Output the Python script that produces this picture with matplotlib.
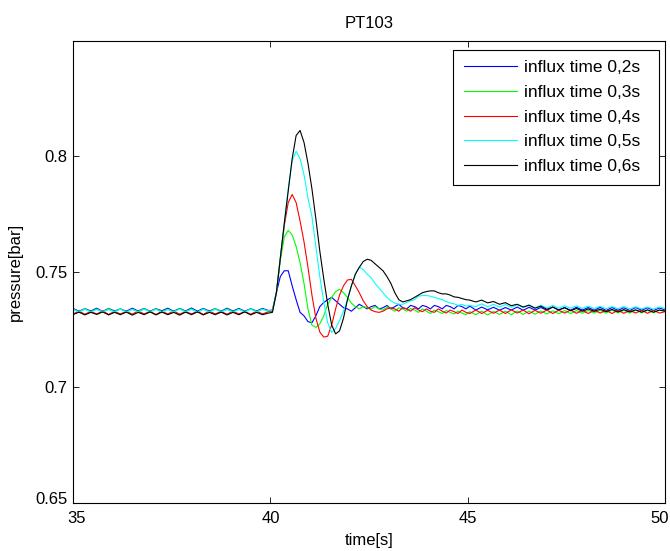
# PT103 pressure response for different influx times

import numpy as np
import matplotlib
matplotlib.use('Agg')
import matplotlib.pyplot as plt
import matplotlib.transforms as mtrans

plt.rcParams['font.family'] = ['Liberation Sans', 'DejaVu Sans']

# time grids: baseline 35.00-39.95 (0.15 s), event 40.05-45.05 (0.1 s), tail 45.20-50.00 (0.15 s)
t_base = np.round(35 + 0.15 * np.arange(34), 2)
t_event = np.round(40.05 + 0.1 * np.arange(51), 2)
t_tail = np.round(45.2 + 0.15 * np.arange(33), 2)
t = np.concatenate([t_base, t_event, t_tail])

labels = ['influx time 0,2s', 'influx time 0,3s', 'influx time 0,4s',
          'influx time 0,5s', 'influx time 0,6s']
colors = ['#0000ff', '#00ff00', '#ff0000', '#00ffff', '#000000']

# values
blue_base = [0.7342, 0.7330, 0.7341, 0.7331, 0.7343, 0.7329, 0.7342, 0.7331, 0.7340, 0.7330,
             0.7343, 0.7331, 0.7342, 0.7330, 0.7341, 0.7332, 0.7343, 0.7330, 0.7342, 0.7331,
             0.7344, 0.7330, 0.7342, 0.7331, 0.7341, 0.7330, 0.7343, 0.7331, 0.7342, 0.7330,
             0.7341, 0.7331, 0.7342, 0.7333]
blue_event = [0.7335, 0.741, 0.748, 0.7505, 0.7505, 0.744, 0.738, 0.7325, 0.731, 0.7285,
              0.728, 0.731, 0.735, 0.7368, 0.738, 0.739, 0.7375, 0.736, 0.7345, 0.734,
              0.733, 0.7345, 0.736, 0.735, 0.734, 0.735, 0.7355, 0.734, 0.7345, 0.7355,
              0.734, 0.735, 0.736, 0.7345, 0.734, 0.7355, 0.735, 0.734, 0.7355, 0.735,
              0.734, 0.7355, 0.735, 0.734, 0.7355, 0.735, 0.734, 0.7355, 0.735, 0.734,
              0.7352]
blue_tail = [0.7335, 0.7348, 0.7336, 0.7347, 0.7334, 0.7346, 0.7335, 0.7348, 0.7334, 0.7347,
             0.7335, 0.7346, 0.7334, 0.7348, 0.7335, 0.7346, 0.7334, 0.7347, 0.7335, 0.7346,
             0.7334, 0.7347, 0.7333, 0.7346, 0.7334, 0.7345, 0.7333, 0.7346, 0.7334, 0.7345,
             0.7333, 0.7344, 0.7335]

green_base = [0.7339, 0.7327, 0.7340, 0.7328, 0.7339, 0.7326, 0.7341, 0.7328, 0.7340, 0.7327,
              0.7339, 0.7328, 0.7341, 0.7327, 0.7340, 0.7328, 0.7339, 0.7327, 0.7341, 0.7328,
              0.7340, 0.7326, 0.7339, 0.7328, 0.7341, 0.7327, 0.7340, 0.7328, 0.7339, 0.7327,
              0.7340, 0.7328, 0.7339, 0.7330]
green_event = [0.7335, 0.741, 0.755, 0.765, 0.768, 0.766, 0.761, 0.754, 0.745, 0.734,
               0.727, 0.726, 0.7275, 0.731, 0.736, 0.739, 0.7415, 0.7425, 0.741, 0.739,
               0.7365, 0.735, 0.734, 0.735, 0.7345, 0.734, 0.735, 0.734, 0.7335, 0.7348,
               0.734, 0.733, 0.7345, 0.734, 0.733, 0.7342, 0.7335, 0.7325, 0.734, 0.733,
               0.732, 0.7335, 0.7328, 0.732, 0.7333, 0.7325, 0.7318, 0.733, 0.7322, 0.7315,
               0.7328]
green_tail = [0.7315, 0.7330, 0.7314, 0.7329, 0.7316, 0.7330, 0.7315, 0.7331, 0.7316, 0.7330,
              0.7317, 0.7331, 0.7318, 0.7332, 0.7319, 0.7333, 0.7320, 0.7333, 0.7321, 0.7334,
              0.7322, 0.7334, 0.7322, 0.7335, 0.7323, 0.7334, 0.7322, 0.7335, 0.7323, 0.7334,
              0.7323, 0.7335, 0.7330]

red_base = [0.7318, 0.7330, 0.7317, 0.7329, 0.7318, 0.7331, 0.7316, 0.7329, 0.7318, 0.7330,
            0.7317, 0.7331, 0.7318, 0.7329, 0.7316, 0.7330, 0.7318, 0.7331, 0.7317, 0.7329,
            0.7318, 0.7330, 0.7316, 0.7331, 0.7318, 0.7329, 0.7317, 0.7330, 0.7318, 0.7329,
            0.7317, 0.7330, 0.7318, 0.7328]
red_event = [0.733, 0.741, 0.756, 0.770, 0.780, 0.7835, 0.780, 0.772, 0.763, 0.752,
             0.740, 0.730, 0.724, 0.7218, 0.7222, 0.727, 0.734, 0.740, 0.744, 0.7465,
             0.7468, 0.744, 0.741, 0.7375, 0.735, 0.7335, 0.7328, 0.7325, 0.733, 0.734,
             0.7345, 0.734, 0.733, 0.7345, 0.734, 0.733, 0.7345, 0.7335, 0.7328, 0.734,
             0.733, 0.7325, 0.734, 0.733, 0.7322, 0.7335, 0.7328, 0.732, 0.7335, 0.7325,
             0.732]
red_tail = [0.7335, 0.7320, 0.7334, 0.7321, 0.7335, 0.7320, 0.7336, 0.7322, 0.7335, 0.7319,
            0.7334, 0.7321, 0.7335, 0.7320, 0.7334, 0.7322, 0.7335, 0.7321, 0.7334, 0.7320,
            0.7335, 0.7322, 0.7334, 0.7320, 0.7335, 0.7321, 0.7334, 0.7322, 0.7335, 0.7321,
            0.7334, 0.7322, 0.7328]

cyan_base = [0.7338, 0.7327, 0.7339, 0.7326, 0.7338, 0.7328, 0.7337, 0.7327, 0.7339, 0.7326,
             0.7338, 0.7327, 0.7339, 0.7328, 0.7338, 0.7326, 0.7337, 0.7327, 0.7339, 0.7328,
             0.7338, 0.7326, 0.7339, 0.7327, 0.7338, 0.7328, 0.7337, 0.7326, 0.7338, 0.7327,
             0.7339, 0.7328, 0.7338, 0.7331]
cyan_event = [0.7335, 0.741, 0.756, 0.771, 0.786, 0.798, 0.8022, 0.799, 0.792, 0.782,
              0.774, 0.761, 0.748, 0.737, 0.728, 0.7238, 0.7255, 0.729, 0.733, 0.738,
              0.744, 0.749, 0.7522, 0.751, 0.749, 0.7475, 0.745, 0.743, 0.741, 0.739,
              0.7375, 0.7365, 0.736, 0.736, 0.7368, 0.7375, 0.738, 0.7395, 0.7398, 0.7398,
              0.7395, 0.739, 0.7385, 0.738, 0.7372, 0.7365, 0.7362, 0.7355, 0.736, 0.7352,
              0.7355]
cyan_tail = [0.7350, 0.7362, 0.7349, 0.7360, 0.7348, 0.7359, 0.7347, 0.7358, 0.7346, 0.7357,
             0.7345, 0.7356, 0.7344, 0.7355, 0.7343, 0.7354, 0.7343, 0.7353, 0.7342, 0.7352,
             0.7342, 0.7351, 0.7341, 0.7350, 0.7341, 0.7350, 0.7340, 0.7349, 0.7340, 0.7348,
             0.7339, 0.7348, 0.7342]

black_base = [0.7315, 0.7326, 0.7314, 0.7325, 0.7316, 0.7327, 0.7314, 0.7325, 0.7315, 0.7326,
              0.7313, 0.7325, 0.7315, 0.7327, 0.7314, 0.7326, 0.7315, 0.7325, 0.7313, 0.7326,
              0.7315, 0.7327, 0.7314, 0.7325, 0.7315, 0.7326, 0.7314, 0.7325, 0.7315, 0.7327,
              0.7314, 0.7325, 0.7315, 0.7322]
black_event = [0.7325, 0.741, 0.756, 0.771, 0.785, 0.799, 0.809, 0.8112, 0.806, 0.797,
               0.786, 0.773, 0.759, 0.747, 0.736, 0.727, 0.7232, 0.7245, 0.730, 0.738,
               0.744, 0.749, 0.752, 0.7545, 0.7555, 0.755, 0.7535, 0.752, 0.7505, 0.748,
               0.745, 0.741, 0.738, 0.737, 0.7375, 0.738, 0.739, 0.740, 0.741, 0.7415,
               0.7418, 0.7418, 0.741, 0.7405, 0.7405, 0.740, 0.7392, 0.739, 0.7385, 0.738,
               0.7378]
black_tail = [0.7370, 0.7378, 0.7366, 0.7372, 0.7360, 0.7367, 0.7354, 0.7360, 0.7348, 0.7356,
              0.7343, 0.7352, 0.7338, 0.7348, 0.7335, 0.7345, 0.7332, 0.7342, 0.7330, 0.7340,
              0.7329, 0.7339, 0.7328, 0.7338, 0.7327, 0.7337, 0.7327, 0.7336, 0.7326, 0.7336,
              0.7326, 0.7335, 0.7330]

series = [blue_base + blue_event + blue_tail,
          green_base + green_event + green_tail,
          red_base + red_event + red_tail,
          cyan_base + cyan_event + cyan_tail,
          black_base + black_event + black_tail]

fig = plt.figure(figsize=(6.7, 5.51), dpi=100)
ax = fig.add_axes([0.109, 0.087, 0.884, 0.839])

for vals, lab, col in zip(series, labels, colors):
    ax.plot(t, vals, color=col, linewidth=0.8, label=lab)

ax.set_xlim(35, 50)
ax.set_ylim(0.65, 0.85)
ax.set_xticks([35, 40, 45, 50])
ax.set_yticks([0.65, 0.7, 0.75, 0.8, 0.85])
ax.set_yticklabels(['0.65', '0.7', '0.75', '0.8', ''])
ax.tick_params(direction='in', top=True, right=True, length=4.5, width=0.6,
               labelsize=12)
ax.tick_params(axis='x', pad=6)
ax.tick_params(axis='y', pad=4)
for sp in ax.spines.values():
    sp.set_linewidth(0.8)

# nudge the corner labels apart like the original
xl = ax.get_xticklabels()
xl[0].set_transform(xl[0].get_transform() + mtrans.ScaledTranslation(4 / 100, 0, fig.dpi_scale_trans))
xl[-1].set_transform(xl[-1].get_transform() + mtrans.ScaledTranslation(-6 / 100, 0, fig.dpi_scale_trans))
yl = ax.get_yticklabels()
yl[0].set_transform(yl[0].get_transform() + mtrans.ScaledTranslation(0, 5 / 100, fig.dpi_scale_trans))

ax.set_title('PT103', fontsize=12, pad=9)
ax.set_xlabel('time[s]', fontsize=12, labelpad=5)
ax.set_ylabel('pressure[bar]', fontsize=12, labelpad=9)

lgd = ax.legend(loc='upper right', bbox_to_anchor=(0.642, 0.5, 0.348, 0.4805),
                mode='expand', borderaxespad=0,
                fancybox=False, framealpha=1, edgecolor='black', fontsize=12.5,
                handlelength=3.05, handletextpad=0.4, labelspacing=0.55,
                borderpad=0.6)
lgd.get_frame().set_linewidth(0.8)

fig.savefig('out.png', dpi=100)
